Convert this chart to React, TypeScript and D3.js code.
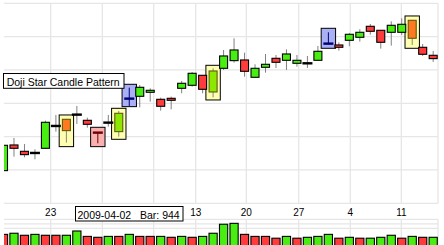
import React from 'react';
import * as d3 from 'd3';

// ---- data ----
const opens = [699, 737.5, 728, 725.5, 732.5, 766, 776, 783, 774.5, 756, 771, 757.5, 807, 810.5, 816.5, 806, 807.5, 822.5, 827, 842, 817, 852.5, 864, 865, 839, 854, 867.5, 864.5, 860, 860, 864.5, 889.5, 887.5, 894.5, 899, 915.5, 909.5, 906.5, 906.5, 924.5, 884, 872];
const highs = [740, 748, 739, 731, 774, 782.5, 776.5, 796, 778.5, 756.5, 782.5, 788.5, 823.5, 827.5, 822.5, 808.5, 810, 833.5, 847, 842.5, 852.5, 880, 897.5, 876, 858.5, 874, 872.5, 881, 872.5, 871, 886, 906.5, 891.5, 905.5, 911, 919, 910, 923, 927.5, 925, 889, 878.5];
const lows = [696, 720, 719, 716, 732, 757.5, 741, 769, 763.5, 740, 765, 750, 796, 794, 802.5, 789, 791, 815, 825, 815, 809, 850, 861, 840, 838.5, 846, 853, 850, 855, 853, 864, 888.5, 879, 885.5, 892.5, 903, 882, 886.5, 902.5, 887.5, 871, 862];
const closes = [737, 732.5, 723, 725.5, 771.5, 766, 759, 783, 768.5, 756, 771, 785, 807, 824, 819.5, 795.5, 804.5, 830, 845, 821, 848.5, 871, 880, 848, 852.5, 858.5, 861.5, 874, 864.5, 860, 878, 889.5, 884, 903.5, 906.5, 908, 891.5, 917, 918.5, 897.5, 873.5, 867];
const volumes = [73, 78, 69, 73, 69, 69, 69, 88, 64, 60, 64, 64, 73, 64, 64, 64, 60, 64, 60, 64, 78, 118, 122, 73, 64, 64, 56, 64, 56, 60, 64, 73, 56, 60, 56, 56, 60, 69, 56, 64, 60, 60];
const volumeUp = [0, 1, 0, 1, 0, 0, 1, 1, 0, 0, 1, 0, 1, 0, 0, 1, 0, 1, 0, 1, 1, 1, 1, 0, 0, 0, 0, 1, 0, 1, 1, 1, 0, 1, 0, 1, 1, 1, 0, 1, 0, 1];

const tickLabels = ['23', '30', '6', '13', '20', '27', '4', '11'];
const tickBars = [4.5, 9.43, 14.33, 18.34, 23.17, 28.17, 33.09, 37.96];

const priceTicks = [650, 700, 750, 800, 850, 900, 950];
const volumeTicks = [100, 120, 140];

const patternBars = [6, 9, 11, 12, 20, 31, 39];
const patternKinds = ['yellow', 'pink', 'yellow', 'blue', 'yellow', 'blue', 'yellow'];
const patternHighs = [782.5, 764, 792.5, 828.5, 857, 912.5, 931];
const patternLows = [735, 735, 746, 795, 805, 882.5, 882.5];

const annotationText = 'Doji Star Candle Pattern';
const cursorDate = '2009-04-02';
const cursorBar = 'Bar: 944';

// ---- styling ----
const W = 444, H = 245;
const plotL = 4, plotR = 438, plotT = 3.3, plotB = 203.3;
const volT = 219.3, volB = 250.8;
const GRID = '#e6e6e6';
const GREEN = '#48ee12';
const RED = '#ff3b3b';
const FONT = '"Liberation Sans", Arial, Helvetica, sans-serif';
const cursorX0 = 75.5, cursorW = 107.5;

const boxFill: Record<string, string> = { yellow: '#ffffb4', pink: '#f9b0b0', blue: '#aab0f6' };

export default function App() {
  const n = opens.length;
  const x = d3.scaleLinear().domain([0, n - 1]).range([3.5, 3.5 + 10.48 * (n - 1)]);
  const y = d3.scaleLinear().domain([650, 950]).range([plotB, plotT]);
  const v = d3.scaleLinear().domain([0, 140]).range([volB, volT]);

  const bw = 8;

  return (
    <svg width={W} height={H} style={{ position: 'absolute', left: 0, top: 0, background: '#fff' }}>
      <defs>
        <clipPath id="plotClip"><rect x={plotL} y={plotT - 1} width={plotR - plotL} height={plotB - plotT + 2} /></clipPath>
        <clipPath id="volClip"><rect x={plotL} y={volT} width={plotR - plotL} height={H - volT} /></clipPath>
      </defs>
      <rect x={0} y={0} width={W} height={H} fill="#fff" />

      {/* main grid */}
      {priceTicks.map((t) => (
        <line key={'h' + t} x1={plotL} x2={plotR} y1={y(t)} y2={y(t)} stroke={GRID} strokeWidth={1.3} />
      ))}
      {tickBars.map((b, i) => (
        <line key={'v' + i} x1={x(b)} x2={x(b)} y1={plotT} y2={plotB} stroke={GRID} strokeWidth={1.3} />
      ))}
      <line x1={plotR} x2={plotR} y1={plotT} y2={plotB} stroke={GRID} strokeWidth={1.3} />

      {/* volume grid */}
      {volumeTicks.map((t) => (
        <line key={'vh' + t} x1={plotL} x2={plotR} y1={v(t)} y2={v(t)} stroke={GRID} strokeWidth={1.3} />
      ))}
      {tickBars.map((b, i) => (
        <line key={'vv' + i} x1={x(b)} x2={x(b)} y1={volT} y2={H} stroke={GRID} strokeWidth={1.3} />
      ))}
      <line x1={plotR} x2={plotR} y1={volT} y2={H} stroke={GRID} strokeWidth={1.3} />

      <g clipPath="url(#plotClip)">
        {/* pattern boxes */}
        {patternBars.map((b, i) => (
          <rect key={'pb' + i} x={x(b) - 7.2} width={14.4} y={y(patternHighs[i])} height={y(patternLows[i]) - y(patternHighs[i])}
            fill={boxFill[patternKinds[i]]} stroke="#000" strokeWidth={1} />
        ))}
        {/* candles */}
        {opens.map((o, i) => {
          const c = closes[i];
          const cx = x(i);
          const pi = patternBars.indexOf(i);
          const kind = pi >= 0 ? patternKinds[pi] : null;
          let wick = '#808080';
          let fill = c > o ? GREEN : RED;
          let stroke = '#000';
          let doji = '#000';
          if (kind === 'yellow') {
            fill = c > o ? '#8ce800' : '#ff7a1e';
            stroke = '#5e5a10';
            wick = '#8a8a66';
          } else if (kind === 'blue') {
            doji = '#000070';
            wick = '#000070';
          } else if (kind === 'pink') {
            doji = '#700000';
            wick = '#700000';
          }
          const top = y(Math.max(o, c));
          const bot = y(Math.min(o, c));
          return (
            <g key={'c' + i}>
              <line x1={cx} x2={cx} y1={y(highs[i])} y2={y(lows[i])} stroke={wick} strokeWidth={1} />
              {o === c ? (
                <rect x={cx - 5} width={10} y={y(o) - 1.2} height={2.4} fill={doji} />
              ) : (
                <rect x={cx - bw / 2} width={bw} y={top} height={Math.max(bot - top, 1)} fill={fill} stroke={stroke} strokeWidth={1.1} />
              )}
            </g>
          );
        })}
      </g>

      {/* volume bars */}
      <g clipPath="url(#volClip)">
        {volumes.map((vol, i) => (
          <rect key={'vb' + i} x={x(i) - 4.1} width={8.2} y={v(vol)} height={volB - v(vol)}
            fill={volumeUp[i] ? GREEN : RED} stroke="#000" strokeWidth={1.1} />
        ))}
      </g>

      {/* x axis labels (those under the cursor box are hidden, as in the reference) */}
      {tickBars.map((b, i) => {
        const tx = x(b);
        if (tx > cursorX0 - 4 && tx < cursorX0 + cursorW + 4) return null;
        return (
          <text key={'tl' + i} x={tx} y={215.8} textAnchor="middle" fontFamily={FONT} fontSize={10} fill="#000">{tickLabels[i]}</text>
        );
      })}

      {/* cursor label box */}
      <rect x={cursorX0} y={206.5} width={cursorW} height={14.5} fill="#fff" stroke="#000" strokeWidth={1} />
      <text x={77.5} y={219.2} fontFamily={FONT} fontSize={10.5} fill="#000">{cursorDate}</text>
      <text x={140} y={219.2} fontFamily={FONT} fontSize={10.5} fill="#000">{cursorBar}</text>

      {/* annotation */}
      <rect x={3.5} y={73.5} width={120.5} height={14.8} fill="#fff" stroke="#000" strokeWidth={1} />
      <text x={6.7} y={86} fontFamily={FONT} fontSize={10.5} fill="#000" textLength={113} lengthAdjust="spacing">{annotationText}</text>
    </svg>
  );
}
